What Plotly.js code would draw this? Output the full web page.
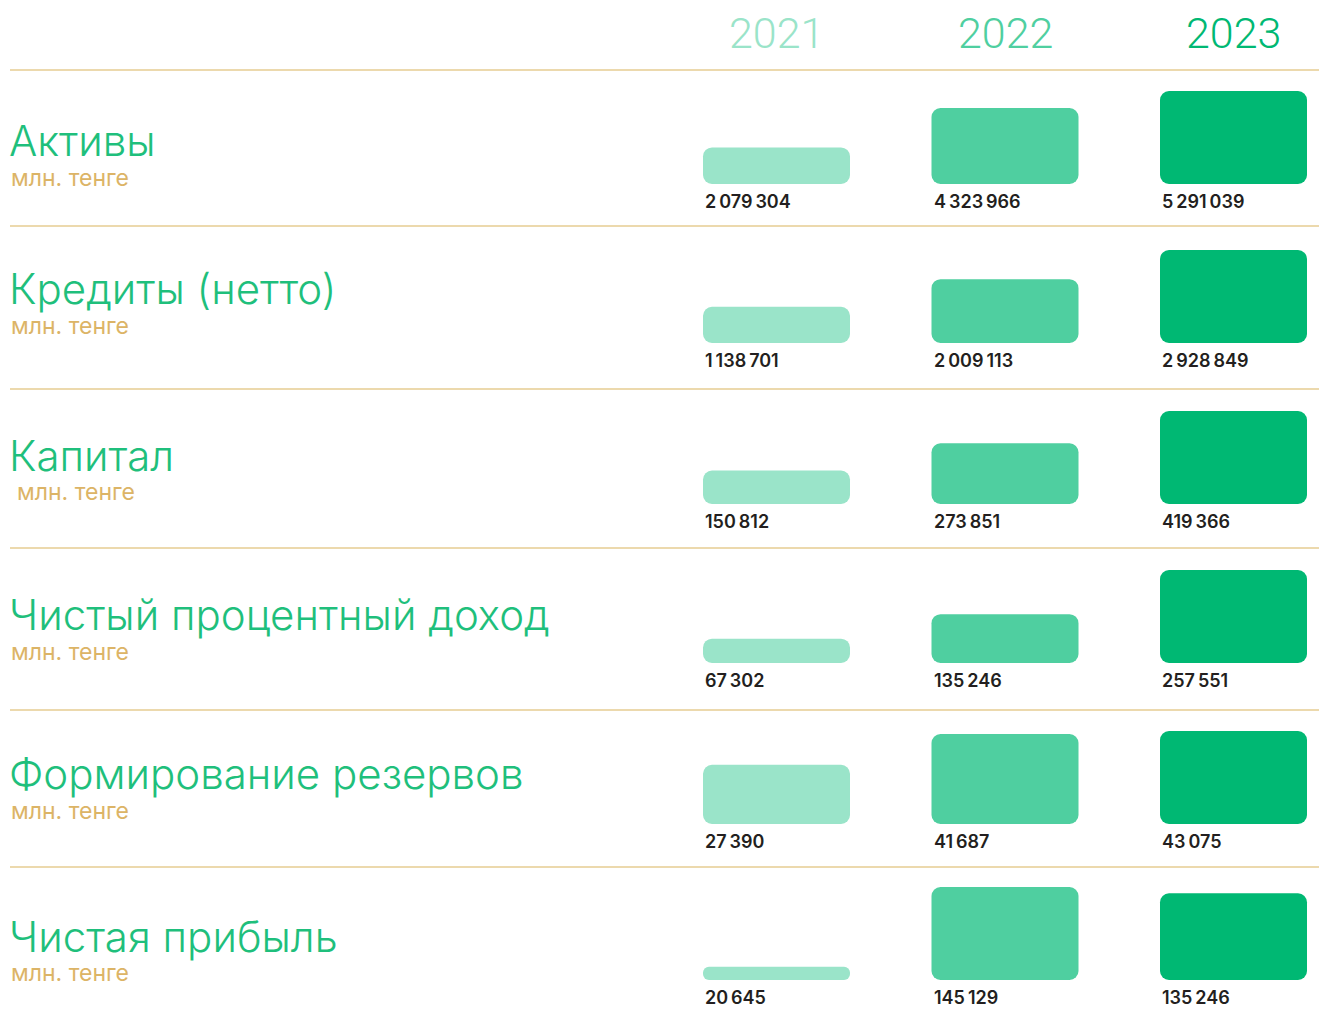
<!DOCTYPE html>
<html><head><meta charset="utf-8">
<script src="https://cdn.plot.ly/plotly-3.0.1.min.js"></script>
<style>html,body{margin:0;padding:0;background:#fff}</style>
</head><body>
<div id="chart" style="width:1319px;height:1020px"></div>
<script>
// ---- data ----
const years = ['2021', '2022', '2023'];
const metrics = ['Активы', 'Кредиты (нетто)', 'Капитал', 'Чистый процентный доход', 'Формирование резервов', 'Чистая прибыль'];
const unitLabel = 'млн. тенге';
const v2021 = [2079304, 1138701, 150812, 67302, 27390, 20645];
const v2022 = [4323966, 2009113, 273851, 135246, 41687, 145129];
const v2023 = [5291039, 2928849, 419366, 257551, 43075, 135246];

// ---- styling / layout constants ----
const W = 1319, H = 1020;
const yearColors = ['#9ae4c9', '#4fcfa0', '#00b873'];
const titleGreen = '#1fbf7c';
const gold = '#dcb466';
const lineColor = '#e6cd92';
const baselinePx = [184, 343, 504, 663, 824, 980];   // bar baselines
const titlePx = [140, 288, 455, 614, 773, 936];      // row title centres
const unitPx = [178, 326, 492, 652, 811, 973];       // unit label centres
const unitXpx = [9, 9, 15, 9, 9, 9];
const sepPx = [70, 226, 389, 548, 710, 867];
const maxBarPx = 93;
const catStep = 228.5, firstCatPx = 776.5, barPx = 147;

const py = p => 1 - p / H;
const xr0 = -firstCatPx / catStep;
const xr1 = xr0 + W / catStep;
const bw = barPx / catStep;

function fmt(n) { return String(n).replace(/\B(?=(\d{3})+(?!\d))/g, '\u2009'); }

const series = [v2021, v2022, v2023];
const traces = [];
const annotations = [];
const layout = {
  width: W, height: H,
  margin: {l: 0, r: 0, t: 0, b: 0},
  paper_bgcolor: '#fff', plot_bgcolor: 'rgba(0,0,0,0)',
  showlegend: false,
  barmode: 'overlay',
  xaxis: {type: 'category', range: [xr0, xr1], visible: false, fixedrange: true},
  shapes: [],
  annotations: annotations
};

metrics.forEach((m, r) => {
  const vals = series.map(s => s[r]);
  const yname = r === 0 ? 'y' : 'y' + (r + 1);
  const ykey = r === 0 ? 'yaxis' : 'yaxis' + (r + 1);
  const rowMax = Math.max(...vals);
  layout[ykey] = {
    domain: [py(baselinePx[r]), py(baselinePx[r] - maxBarPx)],
    range: [0, rowMax], visible: false, anchor: 'x', fixedrange: true
  };
  // an explicit zero base makes Plotly round both ends of each bar
  traces.push({
    type: 'bar', x: years, y: vals, base: vals.map(() => 0), xaxis: 'x', yaxis: yname,
    width: bw,
    marker: {color: yearColors, cornerradius: 9, line: {width: 0}},
    hoverinfo: 'skip'
  });
  years.forEach((yr, i) => {
    annotations.push({
      xref: 'x', yref: yname, x: i - bw / 2, y: 0,
      xanchor: 'left', yanchor: 'top', yshift: -5, showarrow: false,
      text: fmt(vals[i]),
      font: {family: 'Inter, Roboto, sans-serif', size: 18, weight: 600, color: '#231f20'}
    });
  });
  annotations.push({
    xref: 'paper', yref: 'paper', x: 7 / W, y: py(titlePx[r]),
    xanchor: 'left', yanchor: 'middle', showarrow: false, text: m, height: 52,
    font: {family: 'Inter, Roboto, sans-serif', size: 42, weight: 300, color: titleGreen}
  });
  annotations.push({
    xref: 'paper', yref: 'paper', x: unitXpx[r] / W, y: py(unitPx[r]),
    xanchor: 'left', yanchor: 'middle', showarrow: false, text: unitLabel, height: 20,
    font: {family: 'Inter, Roboto, sans-serif', size: 23, weight: 400, color: gold}
  });
});

years.forEach((yr, i) => {
  annotations.push({
    xref: 'x', yref: 'paper', x: i, y: py(33),
    xanchor: 'center', yanchor: 'middle', showarrow: false, text: yr,
    font: {family: 'Roboto, sans-serif', size: 43, weight: 300, color: yearColors[i]}
  });
});

sepPx.forEach(p => {
  layout.shapes.push({
    type: 'line', xref: 'paper', yref: 'paper', x0: 10 / W, x1: 1, y0: py(p), y1: py(p),
    line: {color: lineColor, width: 1.5}
  });
});

Plotly.newPlot('chart', traces, layout, {displayModeBar: false, staticPlot: true});
</script>
</body></html>
